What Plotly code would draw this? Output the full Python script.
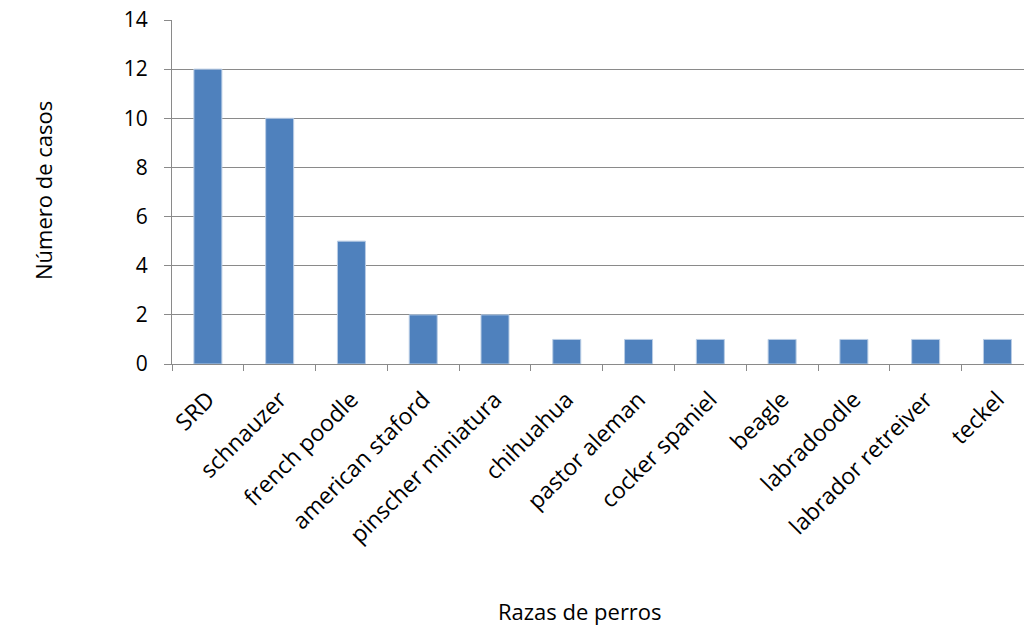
import plotly.graph_objects as go

categories = ["SRD", "schnauzer", "french poodle", "american staford", "pinscher miniatura",
              "chihuahua", "pastor aleman", "cocker spaniel", "beagle", "labradoodle",
              "labrador retreiver", "teckel"]
values = [12, 10, 5, 2, 2, 1, 1, 1, 1, 1, 1, 1]
y_ticks = [0, 2, 4, 6, 8, 10, 12, 14]

FONT = "'Open Sans', Lato, sans-serif"
GRID = "#8a8a8a"

fig = go.Figure(go.Bar(
    x=categories, y=values,
    marker=dict(color="#4F81BD", line=dict(color="#B9CDE5", width=1)),
    width=0.39,
))

fig.update_layout(
    width=1024, height=641,
    margin=dict(l=172, r=0, t=20, b=277),
    paper_bgcolor="white", plot_bgcolor="white",
    showlegend=False,
    font=dict(family=FONT, size=21, color="black"),
    xaxis=dict(
        type="category", range=[-0.5, 11.37],
        tickangle=-45, tickson="boundaries", ticks="outside", ticklen=6,
        tickcolor=GRID, showline=True, linecolor=GRID, linewidth=1,
        showgrid=False, tickfont=dict(size=23, family=FONT),
        ticklabelstandoff=12,
    ),
    yaxis=dict(
        range=[0, 14], tickvals=y_ticks, ticks="outside", ticklen=7,
        tickcolor=GRID, showline=True, linecolor=GRID, linewidth=1,
        showgrid=True, gridcolor=GRID, gridwidth=1, zeroline=False,
        tickfont=dict(size=21, family=FONT), ticklabelstandoff=12,
    ),
    annotations=[
        dict(text="Número de casos", x=26, y=191, xref="paper", yref="paper",
             showarrow=False, textangle=-90, font=dict(size=22, family=FONT)),
        dict(text="Razas de perros", x=580, y=628, xref="paper", yref="paper",
             showarrow=False, font=dict(size=22, family=FONT)),
    ],
)
# convert pixel annotation positions to paper coords
pw = 1024 - 172
ph = 641 - 20 - 277
for a in fig.layout.annotations:
    a.x = (a.x - 172) / pw
    a.y = (641 - 277 - a.y) / ph

fig.write_html("out.html")
